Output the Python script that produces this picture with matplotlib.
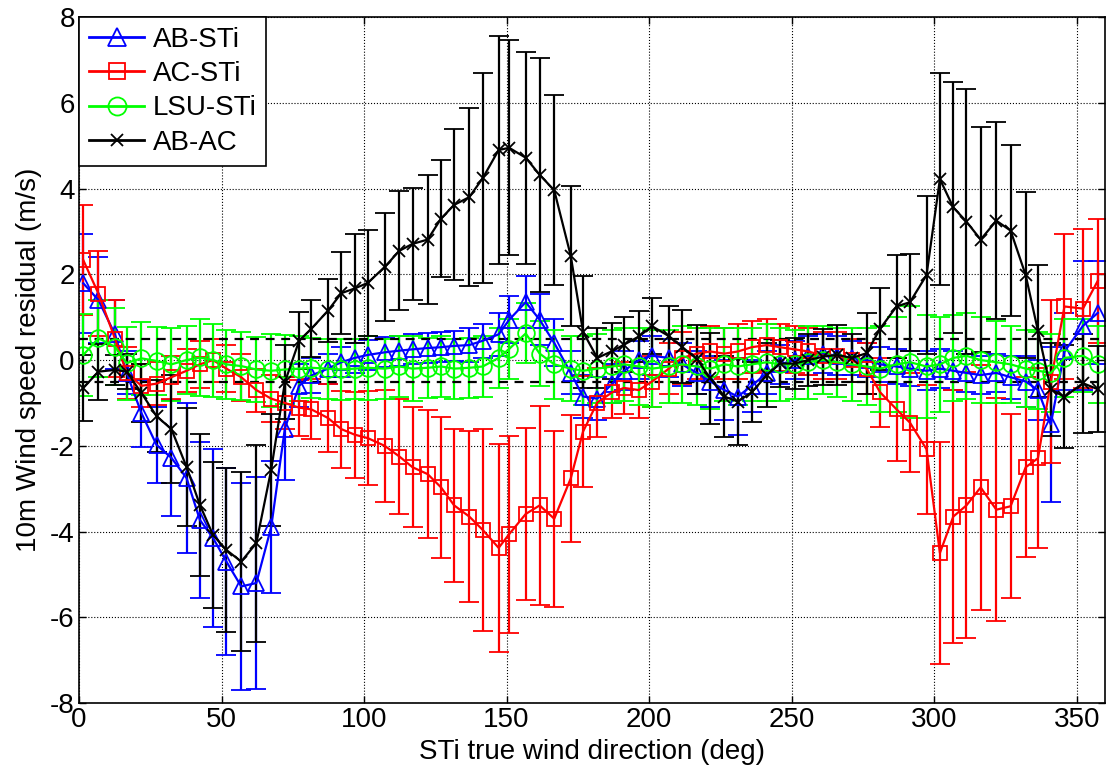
import numpy as np
import matplotlib
matplotlib.use('Agg')
import matplotlib.pyplot as plt
from matplotlib.lines import Line2D

plt.rcParams['font.family'] = ['Liberation Sans', 'DejaVu Sans']
plt.rcParams['axes.unicode_minus'] = False

# wind direction bins (deg)
direction = [1.5, 6.8, 12.6, 16.7, 21.9, 27.2, 32.4, 37.7, 42.4, 47.0, 51.7, 56.9,
             62.2, 67.4, 72.2, 77.2, 81.5, 87.3, 92.0, 96.7, 101.3, 107.2, 112.4, 117.0,
             122.3, 127.0, 131.6, 136.9, 141.6, 147.2, 150.9, 156.7, 161.6, 166.7, 172.5, 176.8,
             181.8, 187.1, 191.2, 196.4, 201.0, 206.9, 211.5, 216.8, 221.5, 226.4, 231.1, 236.0,
             241.3, 245.9, 251.0, 255.9, 261.1, 266.0, 271.1, 276.3, 281.0, 286.8, 291.5, 297.3,
             302.0, 306.7, 311.3, 316.3, 321.8, 326.8, 332.1, 336.4, 340.9, 345.7, 352.2, 357.4]

# AB-STi
ab_sti = [1.79, 1.4, 0.6, -0.3, -1.24, -1.98, -2.28, -2.75, -3.73, -4.15, -4.7, -5.28,
          -5.2, -3.9, -1.6, -0.6, -0.36, -0.2, -0.05, 0.05, 0.12, 0.18, 0.22, 0.25,
          0.28, 0.3, 0.33, 0.35, 0.45, 0.6, 0.94, 1.35, 0.94, 0.4, -0.3, -0.85,
          -0.9, -0.55, -0.25, 0.0, 0.1, 0.05, -0.1, -0.3, -0.5, -0.7, -0.85, -0.6,
          -0.3, -0.1, 0.0, 0.1, 0.15, 0.1, 0.05, 0.0, -0.1, -0.15, -0.2, -0.25,
          -0.2, -0.25, -0.3, -0.35, -0.3, -0.4, -0.5, -0.7, -1.5, 0.2, 0.8, 1.1]
ab_sti_err = [1.16, 1.0, 0.8, 0.5, 0.78, 0.89, 1.36, 1.75, 1.82, 2.07, 2.18, 2.41,
              2.47, 1.54, 1.2, 0.5, 0.4, 0.35, 0.35, 0.35, 0.35, 0.35, 0.35, 0.35,
              0.35, 0.35, 0.35, 0.4, 0.4, 0.5, 0.55, 0.6, 0.6, 0.55, 0.5, 0.5,
              0.5, 0.45, 0.45, 0.45, 0.45, 0.45, 0.5, 0.5, 0.6, 0.7, 0.9, 0.6,
              0.5, 0.45, 0.45, 0.45, 0.45, 0.45, 0.4, 0.4, 0.4, 0.4, 0.4, 0.45,
              0.45, 0.45, 0.45, 0.45, 0.45, 0.5, 0.6, 0.7, 1.8, 0.9, 1.5, 1.2]

# AC-STi
ac_sti = [2.33, 1.55, 0.5, -0.3, -0.6, -0.55, -0.4, -0.25, -0.1, 0.0, -0.2, -0.4,
          -0.7, -0.9, -1.0, -1.11, -1.15, -1.35, -1.61, -1.74, -1.82, -2.0, -2.25, -2.5,
          -2.66, -2.97, -3.39, -3.65, -3.96, -4.38, -4.06, -3.59, -3.39, -3.7, -2.76, -1.67,
          -0.99, -0.75, -0.65, -0.7, -0.5, -0.2, 0.05, 0.15, 0.2, 0.15, 0.2, 0.3,
          0.35, 0.3, 0.25, 0.2, 0.1, 0.1, 0.0, -0.2, -0.75, -1.15, -1.46, -2.08,
          -4.5, -3.65, -3.39, -2.97, -3.49, -3.41, -2.5, -2.29, -0.5, 1.25, 1.2, 1.85]
ac_sti_err = [1.28, 1.0, 0.9, 0.6, 0.5, 0.5, 0.5, 0.5, 0.55, 0.5, 0.55, 0.55,
              0.5, 0.55, 0.6, 0.65, 0.7, 0.8, 0.9, 1.0, 1.1, 1.3, 1.35, 1.4,
              1.5, 1.65, 1.78, 2.0, 2.35, 2.42, 2.3, 2.0, 2.33, 2.05, 1.48, 1.3,
              0.8, 0.6, 0.6, 0.65, 0.6, 0.6, 0.6, 0.6, 0.6, 0.6, 0.65, 0.6,
              0.6, 0.55, 0.55, 0.55, 0.55, 0.55, 0.5, 0.6, 0.8, 1.2, 1.15, 1.5,
              2.6, 2.95, 3.1, 2.85, 2.6, 2.15, 2.1, 2.1, 1.9, 1.7, 1.85, 1.45]

# LSU-STi
lsu_sti = [0.12, 0.51, 0.31, -0.07, 0.04, -0.02, -0.1, 0.0, 0.06, 0.0, -0.1, -0.14,
           -0.22, -0.25, -0.22, -0.2, -0.18, -0.2, -0.22, -0.2, -0.18, -0.2, -0.15, -0.2,
           -0.18, -0.15, -0.2, -0.18, -0.15, 0.05, 0.26, 0.62, 0.15, -0.1, -0.2, -0.25,
           -0.2, -0.15, -0.1, -0.15, -0.2, -0.15, -0.1, -0.15, -0.2, -0.1, -0.15, -0.1,
           -0.05, -0.1, -0.1, -0.05, 0.0, -0.05, -0.1, -0.15, -0.2, -0.1, -0.05, -0.15,
           -0.1, 0.05, 0.1, 0.0, -0.05, -0.1, -0.2, -0.25, -0.3, 0.05, 0.1, -0.1]
lsu_sti_err = [0.95, 0.9, 0.9, 0.85, 0.85, 0.8, 0.85, 0.8, 0.9, 0.85, 0.8, 0.8,
               0.75, 0.85, 0.8, 0.75, 0.7, 0.7, 0.7, 0.7, 0.75, 0.7, 0.7, 0.75,
               0.7, 0.7, 0.7, 0.7, 0.7, 0.7, 0.7, 0.7, 0.75, 0.8, 0.75, 0.8,
               0.8, 0.85, 0.85, 0.9, 0.9, 0.85, 0.9, 0.9, 0.95, 0.85, 0.9, 0.85,
               0.9, 0.85, 0.8, 0.85, 0.8, 0.8, 0.85, 0.9, 1.0, 1.1, 1.3, 1.2,
               1.1, 1.0, 1.0, 1.0, 0.95, 0.9, 0.9, 0.9, 0.9, 0.9, 0.85, 0.9]

# AB-AC
ab_ac = [-0.65, -0.27, -0.23, -0.27, -0.77, -1.31, -1.61, -2.49, -3.38, -4.08, -4.43, -4.7,
         -4.27, -2.56, -0.52, 0.45, 0.73, 1.15, 1.56, 1.67, 1.8, 2.17, 2.55, 2.71,
         2.81, 3.3, 3.62, 3.8, 4.24, 4.9, 4.95, 4.72, 4.32, 3.96, 2.43, 0.66,
         0.05, 0.21, 0.36, 0.55, 0.79, 0.56, 0.31, 0.02, -0.43, -0.85, -0.97, -0.75,
         -0.35, -0.08, -0.08, 0.0, 0.08, 0.12, 0.05, 0.16, 0.73, 1.25, 1.35, 1.98,
         4.22, 3.56, 3.23, 2.81, 3.25, 3.02, 1.98, 0.68, -0.68, -0.86, -0.54, -0.68]
ab_ac_err = [0.77, 0.65, 0.35, 0.4, 0.68, 0.84, 1.25, 1.38, 1.65, 1.71, 1.92, 2.08,
             2.3, 1.3, 0.86, 0.66, 0.66, 0.74, 0.96, 1.27, 1.24, 1.27, 1.39, 1.3,
             1.5, 1.37, 1.76, 2.08, 2.45, 2.67, 2.51, 2.47, 2.73, 2.22, 1.64, 1.3,
             0.7, 0.65, 0.65, 0.6, 0.65, 0.7, 0.85, 0.8, 1.05, 0.94, 1.0, 0.7,
             0.75, 0.55, 0.6, 0.6, 0.65, 0.7, 0.55, 0.94, 0.96, 1.2, 1.13, 1.84,
             2.47, 2.92, 3.1, 2.63, 2.3, 2.0, 1.94, 1.53, 1.08, 1.2, 1.15, 1.0]

series = [
    ('AB-STi', ab_sti, ab_sti_err, 'b', '^', 12),
    ('AC-STi', ac_sti, ac_sti_err, 'r', 's', 10),
    ('LSU-STi', lsu_sti, lsu_sti_err, '#00ff00', 'o', 12),
    ('AB-AC', ab_ac, ab_ac_err, 'k', 'x', 8),
]

fig = plt.figure(figsize=(11.07, 7.76), dpi=100)
ax = fig.add_axes([0.0714, 0.094, 0.927, 0.884])

handles = []
for name, y, err, col, mk, ms in series:
    ax.errorbar(direction, y, yerr=err, color=col, marker=mk, markersize=ms,
                markerfacecolor='none', markeredgecolor=col, markeredgewidth=1.3,
                linewidth=1.6, elinewidth=1.6, capsize=7, capthick=1.6)
    # legend in matlab style: line + marker only
    handles.append(Line2D([], [], color=col, marker=mk, markersize=ms + 1,
                          markerfacecolor='none', markeredgewidth=1.3,
                          linewidth=2, label=name))

# +/- 0.5 m/s reference lines
ax.axhline(0.5, color='k', linestyle='--', linewidth=1.6, dashes=(4, 3))
ax.axhline(-0.5, color='k', linestyle='--', linewidth=1.6, dashes=(4, 3))

ax.set_xlim(0, 360)
ax.set_ylim(-8, 8)
ax.set_xticks(np.arange(0, 351, 50))
ax.set_yticks(np.arange(-8, 9, 2))
ax.grid(True, color='k', linestyle=':', linewidth=0.8)
ax.tick_params(direction='in', top=True, right=True, labelsize=20, length=5, width=1, pad=3)
for sp in ax.spines.values():
    sp.set_linewidth(1.2)

ax.set_xlabel('STi true wind direction (deg)', fontsize=20, labelpad=4)
ax.set_ylabel('10m Wind speed residual (m/s)', fontsize=20, labelpad=6)

leg = ax.legend(handles=handles, loc='upper left', fontsize=20, fancybox=False,
                edgecolor='k', framealpha=1, borderaxespad=0, handlelength=2.0,
                labelspacing=0.3, handletextpad=0.3, borderpad=0.35)
leg.get_frame().set_linewidth(1.2)

fig.savefig('out.png', dpi=100)
